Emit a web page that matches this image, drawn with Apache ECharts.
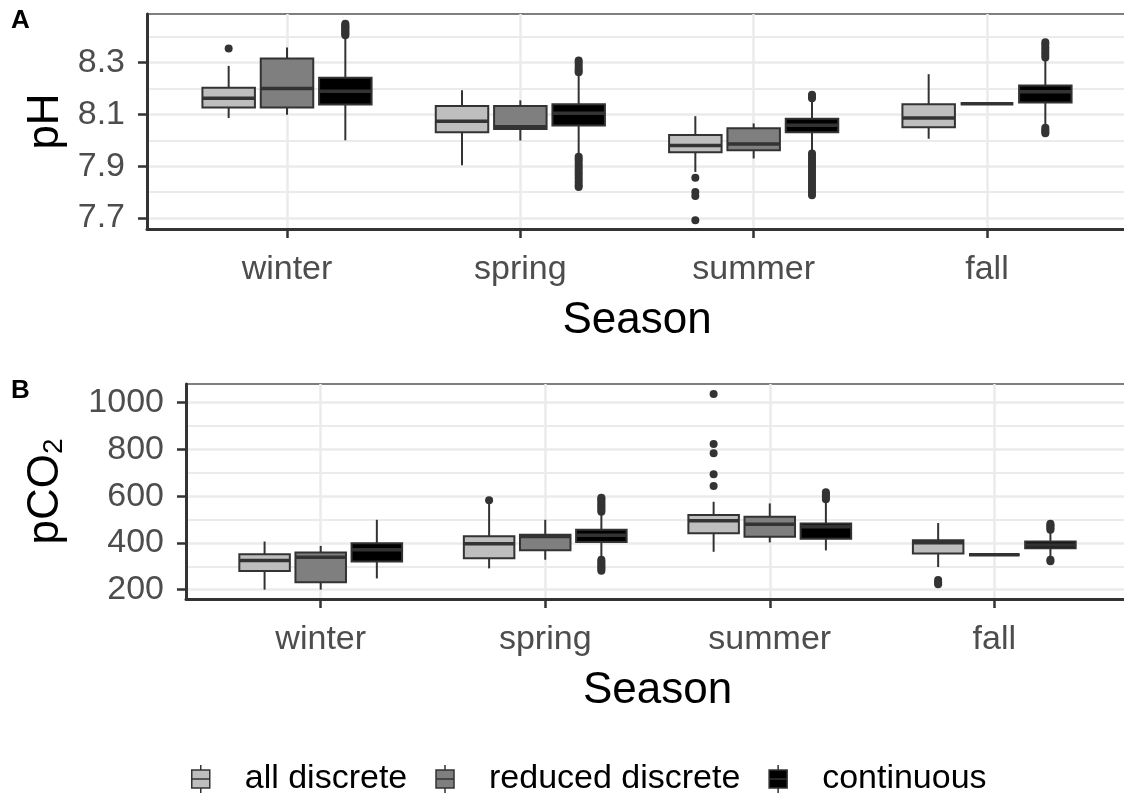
<!DOCTYPE html>
<html>
<head>
<meta charset="utf-8">
<script src="https://cdn.jsdelivr.net/npm/echarts@6/dist/echarts.min.js"></script>
<style>
  html, body { margin: 0; padding: 0; background: #fff; }
  #chart { width: 1124px; height: 793px; }
</style>
</head>
<body>
<div id="chart"></div>
<script>
// Seasons on the x axis and the three sampling methods
const SEASONS = ['winter', 'spring', 'summer', 'fall'];
const GROUPS = ['all discrete', 'reduced discrete', 'continuous'];

// pH boxes, one row per season: [lower whisker, Q1, median, Q3, upper whisker]
const PH_ALL = [
  [8.086, 8.126, 8.162, 8.203, 8.287],
  [7.904, 8.031, 8.073, 8.132, 8.193],
  [7.878, 7.954, 7.980, 8.020, 8.093],
  [8.006, 8.050, 8.086, 8.139, 8.255]
];
const PH_REDUCED = [
  [8.099, 8.126, 8.200, 8.315, 8.358],
  [7.999, 8.044, 8.052, 8.132, 8.154],
  [7.930, 7.962, 7.986, 8.046, 8.065],
  [8.141, 8.141, 8.141, 8.141, 8.141]
];
const PH_CONT = [
  [8.000, 8.138, 8.189, 8.241, 8.395],
  [7.945, 8.057, 8.104, 8.139, 8.255],
  [7.955, 8.031, 8.058, 8.083, 8.155],
  [8.055, 8.146, 8.187, 8.211, 8.310]
];
// pH outliers per season
const PH_ALL_OUT = [[8.354], [], [7.856, 7.801, 7.785, 7.692], []];
const PH_REDUCED_OUT = [[], [], [], []];
const PH_CONT_OUT = [
  [8.405, 8.410, 8.415, 8.420, 8.425, 8.430, 8.435, 8.440, 8.445, 8.449],
  [8.262, 8.270, 8.280, 8.290, 8.300, 8.308,
   7.937, 7.927, 7.917, 7.907, 7.897, 7.887, 7.877, 7.867, 7.857, 7.847, 7.837, 7.827, 7.820],
  [8.162, 8.169, 8.176,
   7.949, 7.939, 7.929, 7.919, 7.909, 7.899, 7.889, 7.879, 7.869, 7.859, 7.849, 7.839, 7.829, 7.819, 7.809, 7.799, 7.788],
  [8.319, 8.329, 8.339, 8.349, 8.359, 8.369, 8.378, 8.048, 8.041, 8.034, 8.027]
];

// pCO2 boxes, one row per season: [lower whisker, Q1, median, Q3, upper whisker]
const CO2_ALL = [
  [200, 280, 325, 352, 406],
  [291, 334, 396, 428, 572],
  [362, 441, 495, 519, 576],
  [297, 355, 401, 411, 485]
];
const CO2_REDUCED = [
  [200, 232, 339, 359, 387],
  [328, 369, 427, 435, 499],
  [402, 426, 480, 512, 569],
  [349, 349, 349, 349, 349]
];
const CO2_CONT = [
  [248, 321, 371, 399, 499],
  [335, 404, 433, 456, 525],
  [368, 418, 469, 483, 580],
  [340, 377, 391, 406, 450]
];
// pCO2 outliers per season
const CO2_ALL_OUT = [[], [583], [1037, 823, 784, 694, 644], [241, 232, 223]];
const CO2_REDUCED_OUT = [[], [], [], []];
const CO2_CONT_OUT = [
  [],
  [533, 541, 549, 557, 565, 573, 581, 589, 593, 328, 320, 312, 304, 296, 288, 281],
  [587, 594, 601, 608, 617],
  [456, 463, 470, 476, 482, 328, 322]
];

// Axis ticks and limits
const PH_TICKS = [7.7, 7.9, 8.1, 8.3];
const PH_MINOR = [7.8, 8.0, 8.2, 8.4];
const PH_LIMITS = [7.658, 8.487];
const CO2_TICKS = [200, 400, 600, 800, 1000];
const CO2_MINOR = [300, 500, 700, 900];
const CO2_LIMITS = [160, 1080];
const SEASON_TICKS = [1, 2, 3, 4];

// Styling
const FONT = '"Liberation Sans", Arial, sans-serif';
const FILLS = ['#BEBEBE', '#7F7F7F', '#000000'];
const LINE = '#333333';
const DODGE = [-0.25, 0, 0.25];
const HALF = 0.1125;
const GRID_MAJOR = '#EBEBEB';

const chart = echarts.init(document.getElementById('chart'), null, { renderer: 'canvas' });

function boxSeries(rows, gi, panel) {
  return {
    type: 'custom',
    name: GROUPS[gi],
    xAxisIndex: panel,
    yAxisIndex: panel * 2 + 1,
    itemStyle: { color: FILLS[gi], borderColor: LINE },
    encode: { x: 0, y: [1, 2, 3, 4, 5] },
    data: rows.map((r, i) => [i + 1].concat(r)),
    z: 3,
    renderItem: function (params, api) {
      const x = api.value(0) + DODGE[gi];
      const lo = api.value(1), q1 = api.value(2), md = api.value(3), q3 = api.value(4), hi = api.value(5);
      const tl = api.coord([x - HALF, q3]);
      const br = api.coord([x + HALF, q1]);
      const top = api.coord([x, hi]);
      const bot = api.coord([x, lo]);
      const ml = api.coord([x - HALF, md]);
      const mr = api.coord([x + HALF, md]);
      return {
        type: 'group',
        children: [
          { type: 'line', shape: { x1: top[0], y1: top[1], x2: top[0], y2: tl[1] },
            style: { stroke: LINE, lineWidth: 2 } },
          { type: 'line', shape: { x1: bot[0], y1: br[1], x2: bot[0], y2: bot[1] },
            style: { stroke: LINE, lineWidth: 2 } },
          { type: 'rect', shape: { x: tl[0], y: tl[1], width: br[0] - tl[0], height: br[1] - tl[1] },
            style: { fill: FILLS[gi], stroke: LINE, lineWidth: 2 } },
          { type: 'line', shape: { x1: ml[0], y1: ml[1], x2: mr[0], y2: mr[1] },
            style: { stroke: LINE, lineWidth: 3.5 } }
        ]
      };
    }
  };
}

function outlierSeries(lists, gi, panel) {
  const pts = [];
  lists.forEach((vals, i) => vals.forEach(v => pts.push([i + 1 + DODGE[gi], v])));
  return {
    type: 'scatter',
    name: 'outliers ' + panel + '-' + gi,
    xAxisIndex: panel,
    yAxisIndex: panel * 2 + 1,
    symbol: 'circle',
    symbolSize: 8,
    itemStyle: { color: LINE, opacity: 1 },
    data: pts,
    z: 4,
    silent: true
  };
}

function xAxisFor(grid) {
  return {
    gridIndex: grid,
    type: 'value',
    position: 'bottom',
    min: 0.4,
    max: 4.6,
    axisLine: { show: true, onZero: false, lineStyle: { color: LINE, width: 3 } },
    axisTick: { show: true, customValues: SEASON_TICKS, length: 9, lineStyle: { color: LINE, width: 2.5 } },
    axisLabel: { customValues: SEASON_TICKS, formatter: v => SEASONS[Math.round(v) - 1],
      fontSize: 34, color: '#4D4D4D', fontFamily: FONT, margin: 24 },
    splitLine: { show: true, lineStyle: { color: GRID_MAJOR, width: 2.5 } },
    name: 'Season',
    nameLocation: 'middle',
    nameGap: 70,
    nameMoveOverlap: false,
    nameTextStyle: { fontSize: 44, color: '#000', fontFamily: FONT }
  };
}

function minorAxis(grid, limits, minor) {
  return {
    gridIndex: grid,
    type: 'value',
    position: 'left',
    min: limits[0],
    max: limits[1],
    axisLine: { show: false },
    axisTick: { show: false, customValues: minor },
    axisLabel: { show: false, customValues: minor },
    splitLine: { show: true, lineStyle: { color: GRID_MAJOR, width: 1.8 } }
  };
}

function majorAxis(grid, limits, ticks, fmt, name, gap) {
  return {
    gridIndex: grid,
    type: 'value',
    position: 'left',
    min: limits[0],
    max: limits[1],
    axisLine: { show: true, onZero: false, lineStyle: { color: LINE, width: 3 } },
    axisTick: { show: true, customValues: ticks, length: 9, lineStyle: { color: LINE, width: 2.5 } },
    axisLabel: { customValues: ticks, formatter: fmt, fontSize: 34, color: '#4D4D4D',
      fontFamily: FONT, margin: 22 },
    splitLine: { show: true, lineStyle: { color: GRID_MAJOR, width: 2.5 } },
    name: name,
    nameLocation: 'middle',
    nameGap: gap,
    nameMoveOverlap: false,
    nameTextStyle: {
      fontSize: 44, color: '#000', fontFamily: FONT,
      rich: { sub: { fontSize: 28, color: '#000', fontFamily: FONT, lineHeight: 12, verticalAlign: 'bottom' } }
    }
  };
}

const ICON = 'path://M9 0L9 5M0 5L18 5L18 23L0 23ZM0 14L18 14M9 23L9 28';

const option = {
  backgroundColor: '#fff',
  animation: false,
  grid: [
    { left: 147, top: 14, right: -3, height: 215, show: true, borderColor: '#555', borderWidth: 1.5,
      outerBoundsMode: 'none' },
    { left: 186, top: 384, right: -5, height: 215, show: true, borderColor: '#555', borderWidth: 1.5,
      outerBoundsMode: 'none' }
  ],
  xAxis: [xAxisFor(0), xAxisFor(1)],
  yAxis: [
    minorAxis(0, PH_LIMITS, PH_MINOR),
    majorAxis(0, PH_LIMITS, PH_TICKS, v => v.toFixed(1), 'pH', 79),
    minorAxis(1, CO2_LIMITS, CO2_MINOR),
    majorAxis(1, CO2_LIMITS, CO2_TICKS, v => String(Math.round(v)), 'pCO{sub|2}', 118)
  ],
  legend: {
    left: 186,
    top: 757,
    orient: 'horizontal',
    itemWidth: 18,
    itemHeight: 28,
    itemGap: 28,
    selectedMode: false,
    data: GROUPS.map((g, i) => ({
      name: g, icon: ICON,
      itemStyle: { color: FILLS[i], borderColor: LINE, borderWidth: 1.5 }
    })),
    textStyle: { fontSize: 34, color: '#000', fontFamily: FONT, padding: [0, 0, 0, 30] }
  },
  graphic: [
    { type: 'text', left: 11, top: 8, style: { text: 'A', font: 'bold 26px "Liberation Sans", Arial', fill: '#000' } },
    { type: 'text', left: 11, top: 378, style: { text: 'B', font: 'bold 26px "Liberation Sans", Arial', fill: '#000' } }
  ],
  series: [
    boxSeries(PH_ALL, 0, 0),
    boxSeries(PH_REDUCED, 1, 0),
    boxSeries(PH_CONT, 2, 0),
    outlierSeries(PH_ALL_OUT, 0, 0),
    outlierSeries(PH_REDUCED_OUT, 1, 0),
    outlierSeries(PH_CONT_OUT, 2, 0),
    boxSeries(CO2_ALL, 0, 1),
    boxSeries(CO2_REDUCED, 1, 1),
    boxSeries(CO2_CONT, 2, 1),
    outlierSeries(CO2_ALL_OUT, 0, 1),
    outlierSeries(CO2_REDUCED_OUT, 1, 1),
    outlierSeries(CO2_CONT_OUT, 2, 1)
  ]
};

chart.setOption(option);
</script>
</body>
</html>
